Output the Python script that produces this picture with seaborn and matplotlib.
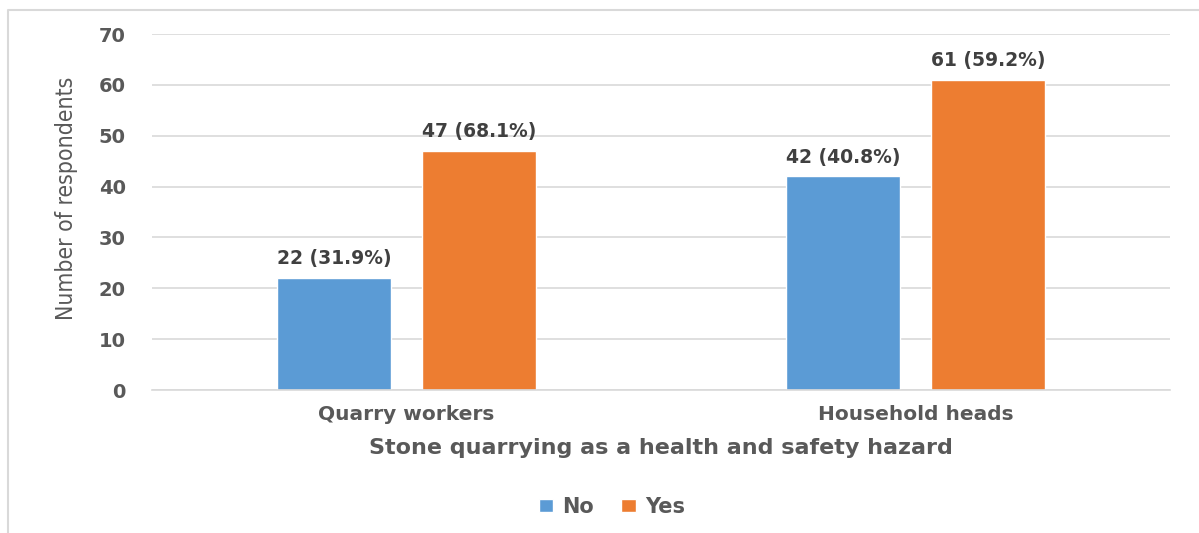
import matplotlib
matplotlib.use("Agg")
import matplotlib.pyplot as plt
import seaborn as sns
import pandas as pd
from matplotlib.lines import Line2D

categories = ["Quarry workers", "Household heads"]
responses = ["No", "Yes"]
no_values = [22, 42]
yes_values = [47, 61]
no_labels = ["22 (31.9%)", "42 (40.8%)"]
yes_labels = ["47 (68.1%)", "61 (59.2%)"]
yticks = [0, 10, 20, 30, 40, 50, 60, 70]

df = pd.DataFrame({
    "group": categories * 2,
    "response": ["No"] * 2 + ["Yes"] * 2,
    "count": no_values + yes_values,
})

sns.set_theme(style="white")
plt.rcParams["font.family"] = ["DejaVu Sans"]

fig = plt.figure(figsize=(11.99, 5.33), dpi=100)
ax = fig.add_axes([152/1199, 1-390/533, (1170-152)/1199, (390-34)/533])

palette = {"No": "#5b9bd5", "Yes": "#ed7d31"}
sns.barplot(data=df, x="group", y="count", hue="response", hue_order=responses,
            order=categories, palette=palette, width=0.57, gap=0.22,
            saturation=1, ax=ax, legend=True)

labels_map = {"No": no_labels, "Yes": yes_labels}
for cont, resp in zip(ax.containers, responses):
    ax.bar_label(cont, labels=labels_map[resp], padding=7, fontsize=13.5,
                 fontweight="bold", color="#404040")

ax.set_ylim(0, 70)
ax.set_yticks(yticks)
ax.set_yticklabels([str(v) for v in yticks], fontsize=14, fontweight="bold", color="#595959")
ax.yaxis.grid(True, color="#d9d9d9", linewidth=1.2)
ax.set_axisbelow(True)
for s in ["top", "right", "left"]:
    ax.spines[s].set_visible(False)
ax.spines["bottom"].set_color("#d9d9d9")
ax.spines["bottom"].set_linewidth(1.2)
ax.tick_params(axis="both", length=0)
ax.tick_params(axis="y", pad=19)
ax.tick_params(axis="x", pad=11)
for t in ax.get_xticklabels():
    t.set_fontsize(14.5)
    t.set_color("#595959")
    t.set_fontweight("bold")
ax.set_xlabel("Stone quarrying as a health and safety hazard", fontsize=16,
              fontweight="bold", color="#595959", labelpad=10)
ax.set_ylabel("Number of respondents", fontsize=16.5, color="#595959",
              fontstretch="condensed")
ax.yaxis.set_label_coords((78-152)/1018, (390-198)/356)

leg = ax.legend(loc="center", bbox_to_anchor=(612/1199, 1-507/533),
                bbox_transform=fig.transFigure, ncol=2, frameon=False,
                fontsize=15, handlelength=0.7, handleheight=0.6,
                columnspacing=1.3, handletextpad=0.45)
for t in leg.get_texts():
    t.set_color("#595959")
    t.set_fontweight("bold")

fig.lines.append(Line2D([8/1199, 8/1199, 1.0], [0.0, 1-10/533, 1-10/533],
                        transform=fig.transFigure, color="#d9d9d9", linewidth=1.5))

fig.savefig("out.png", dpi=100)
